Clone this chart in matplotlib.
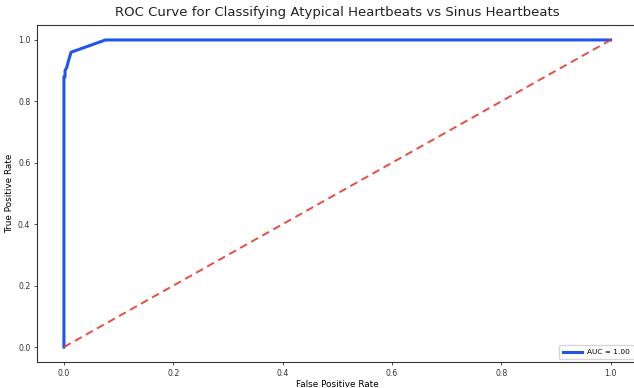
import matplotlib
matplotlib.use("Agg")
import matplotlib.pyplot as plt

# ROC curve points
fpr = [0.0, 0.0, 0.002, 0.002, 0.005, 0.008, 0.013, 0.076, 1.0]
tpr = [0.0, 0.88, 0.88, 0.90, 0.91, 0.93, 0.96, 1.0, 1.0]
auc_label = "AUC = 1.00"
chance = [0.0, 1.0]

W, H = 634, 388
fig = plt.figure(figsize=(W / 100, H / 100), dpi=100)

# axes box in pixels (the right spine sits just past the image edge)
left, right, top, bottom = 36.6, 638.0, 24.6, 362.4
ax = fig.add_axes([left / W, 1 - bottom / H, (right - left) / W, (bottom - top) / H])

ax.plot(fpr, tpr, color="#1f55ee", lw=2.2, label=auc_label)
ax.plot(chance, chance, color="#e8392c", lw=1.4, ls=(0, (4, 2.5)), alpha=0.9)

ax.set_xlim(-0.05, 1.05)
ax.set_ylim(-0.05, 1.05)
ax.set_xticks([0.0, 0.2, 0.4, 0.6, 0.8, 1.0])
ax.set_yticks([0.0, 0.2, 0.4, 0.6, 0.8, 1.0])
ax.tick_params(labelsize=5.6, length=2.5, width=0.6, pad=2, colors="#333333")
for s in ax.spines.values():
    s.set_linewidth(0.8)
    s.set_color("#333333")

ax.set_title("ROC Curve for Classifying Atypical Heartbeats vs Sinus Heartbeats",
             fontsize=9.5, color="#222222", pad=6)
ax.set_xlabel("False Positive Rate", fontsize=6.4, labelpad=2)
ax.set_ylabel("True Positive Rate", fontsize=6.4, labelpad=3)

ax.legend(loc="lower right", fontsize=5.3, handlelength=2.5, borderpad=0.5,
          borderaxespad=0, fancybox=True,
          bbox_to_anchor=(634 / W, 1 - 359 / H), bbox_transform=fig.transFigure)

fig.savefig("out.png", dpi=100)
